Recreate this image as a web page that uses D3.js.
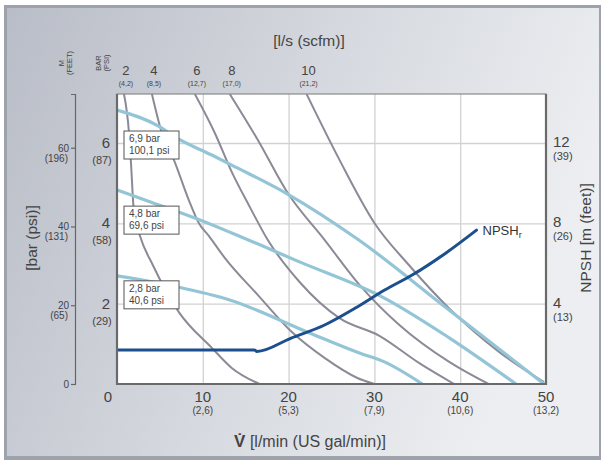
<!DOCTYPE html>
<html>
<head>
<meta charset="utf-8">
<script src="https://cdn.jsdelivr.net/npm/d3@7"></script>
<style>
body { margin: 0; background: #fff; }
text { font-family: "Liberation Sans", Arial, sans-serif; fill: #444; }
</style>
</head>
<body>
<div id="chart"></div>
<script>

var flowTicks = [10, 20, 30, 40, 50];
var flowTicksGal = ['(2,6)', '(5,3)', '(7,9)', '(10,6)', '(13,2)'];
var barTicks = [2, 4, 6];
var barTicksPsi = ['(29)', '(58)', '(87)'];
var mTicks = [0, 20, 40, 60];
var mTicksFeet = ['', '(65)', '(131)', '(196)'];
var npshTicks = [4, 8, 12];
var npshTicksFeet = ['(13)', '(26)', '(39)'];
var airTicks = ['2', '4', '6', '8', '10'];
var airTicksScfm = ['(4,2)', '(8,5)', '(12,7)', '(17,0)', '(21,2)'];

// air consumption curves [flow l/min, bar]
var air2 = [[0.81, 7.22], [1.40, 6.25], [1.63, 5.50], [1.98, 4.26], [2.67, 3.69], [4.2, 2.95], [7.21, 1.79], [11.05, 0.90], [13.37, 0.40], [16.6, 0]];
var air4 = [[4.07, 7.22], [5.23, 6.25], [6.63, 5.58], [8.37, 4.58], [9.53, 4.01], [10.70, 3.69], [12.56, 3.14], [16.40, 2.22], [20.35, 1.30], [24.19, 0.65], [28.02, 0.15], [30.0, 0]];
var air6 = [[9.07, 7.22], [11.4, 6.25], [13.37, 5.28], [15.47, 4.41], [17.56, 3.59], [21.28, 2.54], [25.93, 1.64], [30.58, 1.20], [35.23, 0.52], [39.3, 0]];
var air8 = [[13.14, 7.22], [16.40, 6.08], [19.88, 4.76], [24.19, 3.59], [28.26, 2.47], [32.91, 1.47], [38.72, 0.55], [43.3, 0]];
var air10 = [[22.09, 7.22], [25.93, 5.58], [30.0, 4.01], [34.07, 2.95], [38.72, 1.88], [44.53, 0.80], [49.77, 0.05]];

// pressure curves [flow l/min, bar]
var p69 = [[0, 6.82], [5.0, 6.40], [6.74, 6.15], [11.05, 5.70], [13.37, 5.45], [19.88, 4.73], [28.02, 3.61], [38.7, 1.84], [49.77, 0]];
var p48 = [[0, 4.83], [3.26, 4.58], [9.07, 4.13], [13.37, 3.76], [21.28, 3.04], [31.16, 2.14], [38.72, 1.15], [46.51, 0]];
var p28 = [[0, 2.69], [6.98, 2.42], [13.14, 2.09], [22.44, 1.27], [28.26, 0.77], [31.16, 0.55], [35.58, 0]];
var pressureText = [['6,9 bar', '100,1 psi'], ['4,8 bar', '69,6 psi'], ['2,8 bar', '40,6 psi']];
var pressureTextBar = [5.95, 4.08, 2.22];

// NPSHr [flow l/min, m]
var npsh = [[0, 1.7], [16.0, 1.7], [16.3, 1.62], [20.3, 2.29], [24.2, 2.94], [28.0, 3.84], [31.2, 4.68], [34.4, 5.43], [38.3, 6.52], [41.9, 7.67]];

var svgWidth = 605;
var svgHeight = 460;
var plotL = 117, plotR = 546, plotT = 94, plotB = 384;

var svg = d3.select('#chart').append('svg')
	.attr('width', svgWidth)
	.attr('height', svgHeight);

var defs = svg.append('defs');
var grad = defs.append('linearGradient').attr('id', 'bg').attr('x1', 0).attr('y1', 0).attr('x2', 1).attr('y2', 0.3);
grad.append('stop').attr('offset', '0%').attr('stop-color', '#b9bdc7');
grad.append('stop').attr('offset', '55%').attr('stop-color', '#d6d9df');
grad.append('stop').attr('offset', '100%').attr('stop-color', '#eceef1');
defs.append('clipPath').attr('id', 'plotclip').append('rect')
	.attr('x', plotL).attr('y', plotT).attr('width', plotR - plotL).attr('height', plotB - plotT);

svg.append('rect').attr('x', 4).attr('y', 5).attr('width', 597).attr('height', 455)
	.style('fill', '#9ea2ab');
svg.append('rect').attr('x', 7).attr('y', 8).attr('width', 592).attr('height', 448)
	.style('fill', 'url(#bg)');

var x = d3.scaleLinear().domain([0, 50]).range([plotL, plotR]);
var yBar = d3.scaleLinear().domain([0, 7.22]).range([plotB, plotT]);
var yM = d3.scaleLinear().domain([0, 7.22 * 10.2]).range([plotB, plotT]);
var yNpsh = d3.scaleLinear().domain([0, 14.45]).range([plotB, plotT]);

svg.append('rect').attr('x', plotL).attr('y', plotT).attr('width', plotR - plotL).attr('height', plotB - plotT)
	.style('fill', '#fff');

// grid
svg.append('g').attr('class', 'grid').attr('transform', 'translate(0,' + plotB + ')')
	.call(d3.axisBottom(x).tickValues([10, 20, 30, 40]).tickSize(-(plotB - plotT)).tickFormat(''))
	.call(function(g) { g.select('.domain').remove(); });
svg.append('g').attr('class', 'grid').attr('transform', 'translate(' + plotL + ',0)')
	.call(d3.axisLeft(yBar).tickValues(barTicks).tickSize(-(plotR - plotL)).tickFormat(''))
	.call(function(g) { g.select('.domain').remove(); });
svg.selectAll('.grid line').style('stroke', '#d2d2d2').style('stroke-width', 1.3);

var plot = svg.append('g').attr('clip-path', 'url(#plotclip)');

var barLine = d3.line()
	.x(function(d) { return x(d[0]); })
	.y(function(d) { return yBar(d[1]); })
	.curve(d3.curveMonotoneX);

var npshLine = d3.line()
	.x(function(d) { return x(d[0]); })
	.y(function(d) { return yNpsh(d[1]); })
	.curve(d3.curveMonotoneX);

plot.selectAll('.air').data([air2, air4, air6, air8, air10]).enter().append('path')
	.attr('class', 'air')
	.attr('d', barLine)
	.style('fill', 'none').style('stroke', '#8b8b97').style('stroke-width', 2);

plot.selectAll('.press').data([p69, p48, p28]).enter().append('path')
	.attr('class', 'press')
	.attr('d', barLine)
	.style('fill', 'none').style('stroke', '#93c5d7').style('stroke-width', 3.2);

plot.append('path').datum(npsh)
	.attr('d', npshLine)
	.style('fill', 'none').style('stroke', '#1c4f8e').style('stroke-width', 3)
	.style('stroke-linejoin', 'round').style('stroke-linecap', 'round');

// pressure label boxes
var boxes = svg.selectAll('.pbox').data(pressureText).enter().append('g')
	.attr('class', 'pbox')
	.attr('transform', function(d, i) { return 'translate(' + (plotL + 7) + ',' + (yBar(pressureTextBar[i]) - 14) + ')'; });
boxes.append('rect').attr('width', 55).attr('height', 28)
	.style('fill', '#fff').style('stroke', '#555').style('stroke-width', 1);
boxes.append('text').attr('x', 5).attr('y', 11).style('font-size', '10px').text(function(d) { return d[0]; });
boxes.append('text').attr('x', 5).attr('y', 23).style('font-size', '10px').text(function(d) { return d[1]; });

// frame
svg.append('rect').attr('x', plotL).attr('y', plotT).attr('width', plotR - plotL).attr('height', plotB - plotT)
	.style('fill', 'none').style('stroke', '#8a8a8a').style('stroke-width', 1.2);
svg.append('path').attr('d', 'M' + plotL + ',' + plotT + 'V' + plotB + 'H' + plotR + 'V' + plotT)
	.style('fill', 'none').style('stroke', '#6a6a6a').style('stroke-width', 2.2);

// npshr label
var last = npsh[npsh.length - 1];
var nl = svg.append('text').attr('x', x(last[0]) + 6).attr('y', yNpsh(last[1]) + 5)
	.style('font-size', '13px').style('fill', '#333');
nl.append('tspan').text('NPSH');
nl.append('tspan').attr('dy', 3).style('font-size', '9px').text('r');

// bottom axis labels
svg.append('text').attr('x', x(0) - 9).attr('y', 402).style('font-size', '15px').style('text-anchor', 'middle').text('0');
var bt = svg.selectAll('.bt').data(flowTicks).enter().append('g').attr('class', 'bt')
	.attr('transform', function(d) { return 'translate(' + x(d) + ',0)'; });
bt.append('text').attr('y', 402).style('font-size', '15px').style('text-anchor', 'middle').text(function(d) { return d; });
bt.append('text').attr('y', 414).style('font-size', '10px').style('text-anchor', 'middle').text(function(d, i) { return flowTicksGal[i]; });

var xt = svg.append('text').attr('x', 310).attr('y', 447).style('font-size', '16px').style('text-anchor', 'middle');
xt.append('tspan').style('font-weight', 'bold').style('font-size', '17px').text('V\u0307');
xt.append('tspan').text(' [l/min (US gal/min)]');

// left bar axis
var lt = svg.selectAll('.lt').data(barTicks).enter().append('g').attr('class', 'lt')
	.attr('transform', function(d) { return 'translate(106,' + yBar(d) + ')'; });
lt.append('text').attr('y', 5).style('font-size', '15px').style('text-anchor', 'middle').text(function(d) { return d; });
lt.append('text').attr('y', 21).attr('x', -4).style('font-size', '11px').style('text-anchor', 'middle').text(function(d, i) { return barTicksPsi[i]; });

// metre axis
var mAx = svg.append('g').attr('transform', 'translate(75,0)')
	.call(d3.axisLeft(yM).tickValues(mTicks).tickSize(4).tickFormat(''));
mAx.selectAll('path, line').style('stroke', '#666').style('stroke-width', 1.2);
var mt = svg.selectAll('.mt').data(mTicks).enter().append('g').attr('class', 'mt')
	.attr('transform', function(d) { return 'translate(69,' + yM(d) + ')'; });
mt.append('text').attr('y', 4).style('font-size', '10px').style('text-anchor', 'end').text(function(d) { return d; });
mt.append('text').attr('x', -1).attr('y', 14).style('font-size', '10px').style('text-anchor', 'end').text(function(d, i) { return mTicksFeet[i]; });

svg.append('text').attr('transform', 'translate(37,238) rotate(-90)').style('font-size', '15.5px').style('text-anchor', 'middle').text('[bar (psi)]');

// right npsh axis
var rt = svg.selectAll('.rt').data(npshTicks).enter().append('g').attr('class', 'rt')
	.attr('transform', function(d) { return 'translate(553,' + yNpsh(d) + ')'; });
rt.append('text').attr('y', 4).style('font-size', '15px').text(function(d) { return d; });
rt.append('text').attr('y', 17).style('font-size', '11px').text(function(d, i) { return npshTicksFeet[i]; });
svg.append('text').attr('transform', 'translate(591,238) rotate(-90)').style('font-size', '15.5px').style('text-anchor', 'middle').text('NPSH [m (feet)]');

// top air axis
var tops = [air2, air4, air6, air8, air10];
var tt = svg.selectAll('.tt').data(airTicks).enter().append('g').attr('class', 'tt')
	.attr('transform', function(d, i) { return 'translate(' + (x(tops[i][0][0]) + 2) + ',0)'; });
tt.append('text').attr('y', 75).style('font-size', '13px').style('text-anchor', 'middle').text(function(d) { return d; });
tt.append('text').attr('y', 86).style('font-size', '7px').style('text-anchor', 'middle').text(function(d, i) { return airTicksScfm[i]; });

svg.append('text').attr('x', 309).attr('y', 46).style('font-size', '15.5px').style('text-anchor', 'middle').text('[l/s (scfm)]');

svg.append('text').attr('transform', 'translate(101,63) rotate(-90)').style('font-size', '7.5px').style('text-anchor', 'middle').text('BAR');
svg.append('text').attr('transform', 'translate(109,63) rotate(-90)').style('font-size', '7.5px').style('text-anchor', 'middle').text('(PSI)');
svg.append('text').attr('transform', 'translate(64,63) rotate(-90)').style('font-size', '7.5px').style('text-anchor', 'middle').text('M');
svg.append('text').attr('transform', 'translate(72,63) rotate(-90)').style('font-size', '7.5px').style('text-anchor', 'middle').text('(FEET)');

</script>
</body>
</html>
